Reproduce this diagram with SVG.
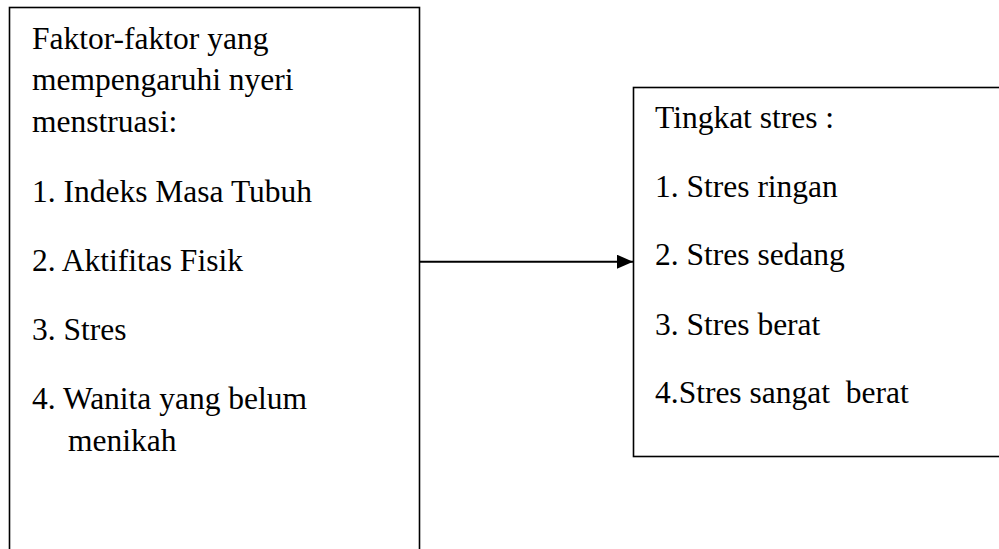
<svg xmlns="http://www.w3.org/2000/svg" width="999" height="549" viewBox="0 0 999 549">
<style>
.box{fill:#fff;stroke:#000;stroke-width:1.6}
.t{font-family:'Liberation Serif','Tinos','DejaVu Serif',serif;font-size:31.5px;fill:#000;white-space:pre}
.conn{stroke:#000;stroke-width:2;fill:none}
</style>
<defs>
<marker id="arr" viewBox="0 0 16 14" refX="16" refY="7" markerWidth="16" markerHeight="14" markerUnits="userSpaceOnUse" orient="auto">
<path d="M0,0 L16,7 L0,14 Z" fill="#000"/>
</marker>
</defs>
<rect width="999" height="549" fill="#fff"/>
<g id="node-faktor" font-family="Liberation Serif, serif">
<rect class="box" x="9.5" y="7.5" width="410" height="560"/>
<text class="t" x="32" y="48.5">Faktor-faktor yang</text>
<text class="t" x="32" y="90">mempengaruhi nyeri</text>
<text class="t" x="32" y="131.5">menstruasi:</text>
<text class="t" x="32" y="202.3">1. Indeks Masa Tubuh</text>
<text class="t" x="32" y="270.7">2. Aktifitas Fisik</text>
<text class="t" x="32" y="340">3. Stres</text>
<text class="t" x="32" y="408.5">4. Wanita yang belum</text>
<text class="t" x="68" y="451">menikah</text>
</g>
<g id="node-tingkat" font-family="Liberation Serif, serif">
<rect class="box" x="633.5" y="87.5" width="380" height="369"/>
<text class="t" x="655" y="128">Tingkat stres :</text>
<text class="t" x="655" y="196.7">1. Stres ringan</text>
<text class="t" x="655" y="265">2. Stres sedang</text>
<text class="t" x="655" y="335">3. Stres berat</text>
<text class="t" x="655" y="403">4.Stres sangat  berat</text>
</g>
<g id="connectors">
<line class="conn" x1="420" y1="261.7" x2="633" y2="261.7" marker-end="url(#arr)"/>
</g>
</svg>
